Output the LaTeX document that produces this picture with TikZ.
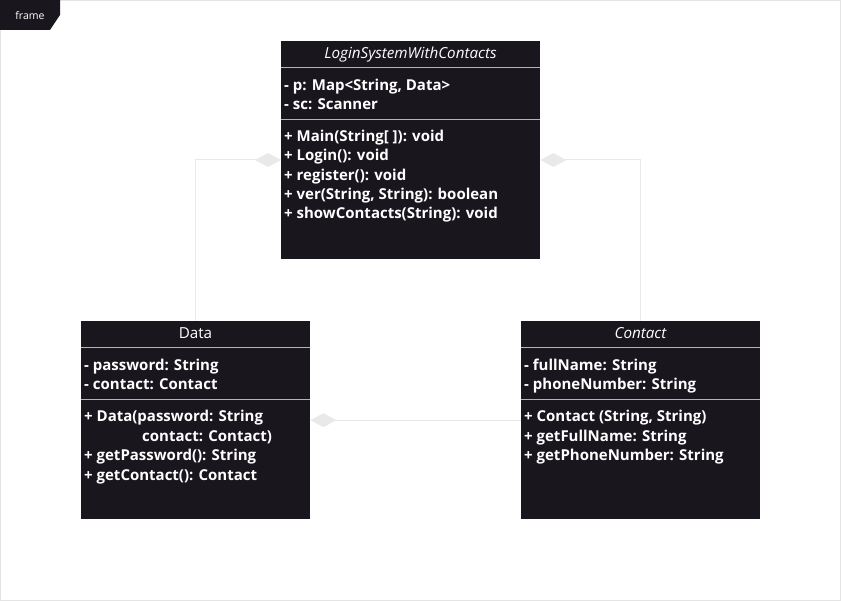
\documentclass[tikz,border=0pt]{standalone}
\usepackage{fontspec}
\setmainfont{Open Sans}
\usetikzlibrary{arrows.meta,calc}
\definecolor{boxfill}{HTML}{19161E}
\definecolor{sepline}{HTML}{B4B4B8}
\definecolor{connline}{HTML}{E9E9E9}
\definecolor{framegray}{HTML}{E4E4E4}
\tikzset{
  classbox/.style={draw=none, fill=boxfill, rectangle, anchor=north west, inner sep=0pt},
  ctitle/.style={text=white, font=\fontsize{15.2}{17}\selectfont, anchor=base, inner sep=0pt},
  member/.style={text=white, font=\fontsize{15}{17}\selectfont\bfseries, anchor=base west, inner sep=0pt},
  sep/.style={draw=sepline, line width=0.9pt},
  assoc/.style={draw=connline, line width=1pt,
    {Diamond[length=26pt,width=14pt,fill=connline,line width=0pt]}-},
}
\begin{document}
\begin{tikzpicture}[x=1pt,y=-1pt]
\useasboundingbox (0,0) rectangle (841,601);
% outer frame
\draw[framegray, line width=1pt] (0.5,0.5) rectangle (840.5,600.5);
\fill[boxfill] (0,0) -- (60,0) -- (60,15) -- (50,30) -- (0,30) -- cycle;
\node[text=white, font=\fontsize{10.5}{12}\selectfont, anchor=base] (flabel) at (30,20) {frame};

% LoginSystemWithContacts
\node[classbox, minimum width=259pt, minimum height=218pt] (login) at (281,41) {};
\draw[sep] (281,67.5) -- (540,67.5);
\draw[sep] (281,119.5) -- (540,119.5);
\node[ctitle] (lt) at (410.5,58.5) {\itshape LoginSystemWithContacts};
\node[member] (l1) at (284,90.5) {- p: Map<String, Data>};
\node[member] (l2) at (284,109.5) {- sc: Scanner};
\node[member] (l3) at (284,141.5) {+ Main(String[ ]): void};
\node[member] (l4) at (284,161) {+ Login(): void};
\node[member] (l5) at (284,180.5) {+ register(): void};
\node[member] (l6) at (284,199.5) {+ ver(String, String): boolean};
\node[member] (l7) at (284,219) {+ showContacts(String): void};

% Data
\node[classbox, minimum width=229pt, minimum height=198pt] (data) at (81,321) {};
\draw[sep] (81,347.5) -- (310,347.5);
\draw[sep] (81,399.5) -- (310,399.5);
\node[ctitle] (dt) at (195.5,338.5) {Data};
\node[member] (d1) at (84,370.5) {- password: String};
\node[member] (d2) at (84,389.5) {- contact: Contact};
\node[member] (d3) at (84,422) {+ Data(password: String};
\node[member] (d4) at (142,441.5) {contact: Contact)};
\node[member] (d5) at (84,460.5) {+ getPassword(): String};
\node[member] (d6) at (84,480) {+ getContact(): Contact};

% Contact
\node[classbox, minimum width=239pt, minimum height=198pt] (contact) at (521,321) {};
\draw[sep] (521,347.5) -- (760,347.5);
\draw[sep] (521,399.5) -- (760,399.5);
\node[ctitle] (ct) at (640.5,338.5) {\itshape Contact};
\node[member] (c1) at (524,370.5) {- fullName: String};
\node[member] (c2) at (524,389.5) {- phoneNumber: String};
\node[member] (c3) at (524,422) {+ Contact (String, String)};
\node[member] (c4) at (524,441.5) {+ getFullName: String};
\node[member] (c5) at (524,460.5) {+ getPhoneNumber: String};

% associations (diamond at the owning class)
\coordinate (lw) at ([yshift=-119pt]login.north west);
\coordinate (le) at ([yshift=-119pt]login.north east);
\draw[assoc] (lw) -| (data.north);
\draw[assoc] (le) -| (contact.north);
\draw[assoc] (data.east) -- (contact.west);
\end{tikzpicture}
\end{document}
